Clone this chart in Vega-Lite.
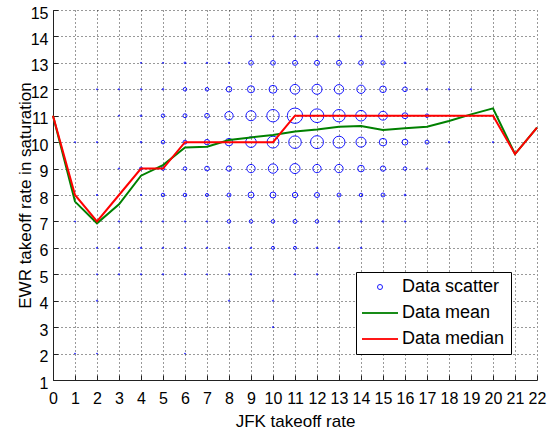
{
  "$schema": "https://vega.github.io/schema/vega-lite/v6.json",
  "width": 484,
  "height": 370,
  "autosize": "none",
  "padding": {"left": 53, "top": 10, "right": 10, "bottom": 52},
  "background": "white",
  "data": {
    "values": [
      {"s": "Data scatter", "x": 9, "y": 14, "n": 0.4}, {"s": "Data scatter", "x": 10, "y": 14, "n": 0.5}, {"s": "Data scatter", "x": 11, "y": 14, "n": 0.6}, {"s": "Data scatter", "x": 12, "y": 14, "n": 0.6}, {"s": "Data scatter", "x": 13, "y": 14, "n": 0.6}, {"s": "Data scatter", "x": 14, "y": 14, "n": 0.6},
      {"s": "Data scatter", "x": 4, "y": 13, "n": 0.4}, {"s": "Data scatter", "x": 5, "y": 13, "n": 0.4}, {"s": "Data scatter", "x": 6, "y": 13, "n": 1}, {"s": "Data scatter", "x": 7, "y": 13, "n": 0.6}, {"s": "Data scatter", "x": 8, "y": 13, "n": 0.6}, {"s": "Data scatter", "x": 9, "y": 13, "n": 7}, {"s": "Data scatter", "x": 10, "y": 13, "n": 7}, {"s": "Data scatter", "x": 11, "y": 13, "n": 8}, {"s": "Data scatter", "x": 12, "y": 13, "n": 8}, {"s": "Data scatter", "x": 13, "y": 13, "n": 8}, {"s": "Data scatter", "x": 14, "y": 13, "n": 7}, {"s": "Data scatter", "x": 15, "y": 13, "n": 6}, {"s": "Data scatter", "x": 16, "y": 13, "n": 1},
      {"s": "Data scatter", "x": 2, "y": 12, "n": 0.4}, {"s": "Data scatter", "x": 3, "y": 12, "n": 0.5}, {"s": "Data scatter", "x": 4, "y": 12, "n": 0.6}, {"s": "Data scatter", "x": 5, "y": 12, "n": 0.8}, {"s": "Data scatter", "x": 6, "y": 12, "n": 4}, {"s": "Data scatter", "x": 7, "y": 12, "n": 4}, {"s": "Data scatter", "x": 8, "y": 12, "n": 10}, {"s": "Data scatter", "x": 9, "y": 12, "n": 16}, {"s": "Data scatter", "x": 10, "y": 12, "n": 20}, {"s": "Data scatter", "x": 11, "y": 12, "n": 30}, {"s": "Data scatter", "x": 12, "y": 12, "n": 32}, {"s": "Data scatter", "x": 13, "y": 12, "n": 28}, {"s": "Data scatter", "x": 14, "y": 12, "n": 22}, {"s": "Data scatter", "x": 15, "y": 12, "n": 14}, {"s": "Data scatter", "x": 16, "y": 12, "n": 7}, {"s": "Data scatter", "x": 17, "y": 12, "n": 1}, {"s": "Data scatter", "x": 18, "y": 12, "n": 0.6}, {"s": "Data scatter", "x": 19, "y": 12, "n": 0.6},
      {"s": "Data scatter", "x": 3, "y": 11, "n": 0.4}, {"s": "Data scatter", "x": 4, "y": 11, "n": 0.8}, {"s": "Data scatter", "x": 5, "y": 11, "n": 4}, {"s": "Data scatter", "x": 6, "y": 11, "n": 5}, {"s": "Data scatter", "x": 7, "y": 11, "n": 7}, {"s": "Data scatter", "x": 8, "y": 11, "n": 22}, {"s": "Data scatter", "x": 9, "y": 11, "n": 32}, {"s": "Data scatter", "x": 10, "y": 11, "n": 49}, {"s": "Data scatter", "x": 11, "y": 11, "n": 75}, {"s": "Data scatter", "x": 12, "y": 11, "n": 60}, {"s": "Data scatter", "x": 13, "y": 11, "n": 49}, {"s": "Data scatter", "x": 14, "y": 11, "n": 36}, {"s": "Data scatter", "x": 15, "y": 11, "n": 25}, {"s": "Data scatter", "x": 16, "y": 11, "n": 11}, {"s": "Data scatter", "x": 17, "y": 11, "n": 4},
      {"s": "Data scatter", "x": 1, "y": 10, "n": 0.4}, {"s": "Data scatter", "x": 2, "y": 10, "n": 0.5}, {"s": "Data scatter", "x": 4, "y": 10, "n": 0.8}, {"s": "Data scatter", "x": 5, "y": 10, "n": 4}, {"s": "Data scatter", "x": 6, "y": 10, "n": 5}, {"s": "Data scatter", "x": 7, "y": 10, "n": 9}, {"s": "Data scatter", "x": 8, "y": 10, "n": 18}, {"s": "Data scatter", "x": 9, "y": 10, "n": 36}, {"s": "Data scatter", "x": 10, "y": 10, "n": 45}, {"s": "Data scatter", "x": 11, "y": 10, "n": 50}, {"s": "Data scatter", "x": 12, "y": 10, "n": 53}, {"s": "Data scatter", "x": 13, "y": 10, "n": 45}, {"s": "Data scatter", "x": 14, "y": 10, "n": 32}, {"s": "Data scatter", "x": 15, "y": 10, "n": 18}, {"s": "Data scatter", "x": 16, "y": 10, "n": 11}, {"s": "Data scatter", "x": 17, "y": 10, "n": 5}, {"s": "Data scatter", "x": 18, "y": 10, "n": 0.6}, {"s": "Data scatter", "x": 20, "y": 10, "n": 0.5},
      {"s": "Data scatter", "x": 3, "y": 9, "n": 0.5}, {"s": "Data scatter", "x": 4, "y": 9, "n": 3}, {"s": "Data scatter", "x": 5, "y": 9, "n": 4}, {"s": "Data scatter", "x": 6, "y": 9, "n": 4}, {"s": "Data scatter", "x": 7, "y": 9, "n": 7}, {"s": "Data scatter", "x": 8, "y": 9, "n": 9}, {"s": "Data scatter", "x": 9, "y": 9, "n": 22}, {"s": "Data scatter", "x": 10, "y": 9, "n": 28}, {"s": "Data scatter", "x": 11, "y": 9, "n": 32}, {"s": "Data scatter", "x": 12, "y": 9, "n": 22}, {"s": "Data scatter", "x": 13, "y": 9, "n": 22}, {"s": "Data scatter", "x": 14, "y": 9, "n": 14}, {"s": "Data scatter", "x": 15, "y": 9, "n": 9}, {"s": "Data scatter", "x": 16, "y": 9, "n": 4}, {"s": "Data scatter", "x": 17, "y": 9, "n": 0.8},
      {"s": "Data scatter", "x": 2, "y": 8, "n": 0.5}, {"s": "Data scatter", "x": 4, "y": 8, "n": 0.6}, {"s": "Data scatter", "x": 5, "y": 8, "n": 4}, {"s": "Data scatter", "x": 6, "y": 8, "n": 4}, {"s": "Data scatter", "x": 7, "y": 8, "n": 3}, {"s": "Data scatter", "x": 8, "y": 8, "n": 5}, {"s": "Data scatter", "x": 9, "y": 8, "n": 11}, {"s": "Data scatter", "x": 10, "y": 8, "n": 11}, {"s": "Data scatter", "x": 11, "y": 8, "n": 9}, {"s": "Data scatter", "x": 12, "y": 8, "n": 8}, {"s": "Data scatter", "x": 13, "y": 8, "n": 5}, {"s": "Data scatter", "x": 14, "y": 8, "n": 4}, {"s": "Data scatter", "x": 15, "y": 8, "n": 5}, {"s": "Data scatter", "x": 16, "y": 8, "n": 1},
      {"s": "Data scatter", "x": 1, "y": 7, "n": 0.4}, {"s": "Data scatter", "x": 2, "y": 7, "n": 0.5}, {"s": "Data scatter", "x": 3, "y": 7, "n": 0.5}, {"s": "Data scatter", "x": 4, "y": 7, "n": 0.6}, {"s": "Data scatter", "x": 5, "y": 7, "n": 0.6}, {"s": "Data scatter", "x": 6, "y": 7, "n": 0.6}, {"s": "Data scatter", "x": 7, "y": 7, "n": 0.6}, {"s": "Data scatter", "x": 8, "y": 7, "n": 4}, {"s": "Data scatter", "x": 9, "y": 7, "n": 4}, {"s": "Data scatter", "x": 10, "y": 7, "n": 4}, {"s": "Data scatter", "x": 11, "y": 7, "n": 5}, {"s": "Data scatter", "x": 12, "y": 7, "n": 4}, {"s": "Data scatter", "x": 13, "y": 7, "n": 0.8}, {"s": "Data scatter", "x": 14, "y": 7, "n": 0.8}, {"s": "Data scatter", "x": 15, "y": 7, "n": 0.8}, {"s": "Data scatter", "x": 16, "y": 7, "n": 0.6},
      {"s": "Data scatter", "x": 2, "y": 6, "n": 0.5}, {"s": "Data scatter", "x": 3, "y": 6, "n": 0.5}, {"s": "Data scatter", "x": 4, "y": 6, "n": 0.6}, {"s": "Data scatter", "x": 5, "y": 6, "n": 0.6}, {"s": "Data scatter", "x": 6, "y": 6, "n": 0.6}, {"s": "Data scatter", "x": 7, "y": 6, "n": 0.6}, {"s": "Data scatter", "x": 8, "y": 6, "n": 0.6}, {"s": "Data scatter", "x": 9, "y": 6, "n": 0.6}, {"s": "Data scatter", "x": 10, "y": 6, "n": 3}, {"s": "Data scatter", "x": 11, "y": 6, "n": 3}, {"s": "Data scatter", "x": 12, "y": 6, "n": 0.8}, {"s": "Data scatter", "x": 13, "y": 6, "n": 0.6}, {"s": "Data scatter", "x": 14, "y": 6, "n": 0.6},
      {"s": "Data scatter", "x": 2, "y": 5, "n": 0.4}, {"s": "Data scatter", "x": 3, "y": 5, "n": 0.5}, {"s": "Data scatter", "x": 4, "y": 5, "n": 0.5}, {"s": "Data scatter", "x": 5, "y": 5, "n": 0.6}, {"s": "Data scatter", "x": 6, "y": 5, "n": 0.6}, {"s": "Data scatter", "x": 7, "y": 5, "n": 0.4}, {"s": "Data scatter", "x": 8, "y": 5, "n": 0.6}, {"s": "Data scatter", "x": 9, "y": 5, "n": 0.6}, {"s": "Data scatter", "x": 11, "y": 5, "n": 0.6}, {"s": "Data scatter", "x": 12, "y": 5, "n": 0.6},
      {"s": "Data scatter", "x": 2, "y": 4, "n": 0.5}, {"s": "Data scatter", "x": 8, "y": 4, "n": 0.5}, {"s": "Data scatter", "x": 10, "y": 4, "n": 0.5},
      {"s": "Data scatter", "x": 10, "y": 3, "n": 0.5},
      {"s": "Data scatter", "x": 1, "y": 2, "n": 0.3}, {"s": "Data scatter", "x": 2, "y": 2, "n": 0.3}, {"s": "Data scatter", "x": 6, "y": 2, "n": 0.3},
      {"s": "Data mean", "x": 0, "y": 11}, {"s": "Data mean", "x": 1, "y": 7.75}, {"s": "Data mean", "x": 2, "y": 6.93}, {"s": "Data mean", "x": 3, "y": 7.65}, {"s": "Data mean", "x": 4, "y": 8.73}, {"s": "Data mean", "x": 5, "y": 9.13},
      {"s": "Data mean", "x": 6, "y": 9.8}, {"s": "Data mean", "x": 7, "y": 9.83}, {"s": "Data mean", "x": 8, "y": 10.08}, {"s": "Data mean", "x": 9, "y": 10.18}, {"s": "Data mean", "x": 10, "y": 10.27}, {"s": "Data mean", "x": 11, "y": 10.4},
      {"s": "Data mean", "x": 12, "y": 10.48}, {"s": "Data mean", "x": 13, "y": 10.58}, {"s": "Data mean", "x": 14, "y": 10.61}, {"s": "Data mean", "x": 15, "y": 10.46}, {"s": "Data mean", "x": 16, "y": 10.53}, {"s": "Data mean", "x": 17, "y": 10.58},
      {"s": "Data mean", "x": 18, "y": 10.8}, {"s": "Data mean", "x": 19, "y": 11.05}, {"s": "Data mean", "x": 20, "y": 11.28}, {"s": "Data mean", "x": 21, "y": 9.55}, {"s": "Data mean", "x": 22, "y": 10.55},
      {"s": "Data median", "x": 0, "y": 11}, {"s": "Data median", "x": 1, "y": 8}, {"s": "Data median", "x": 2, "y": 7}, {"s": "Data median", "x": 3, "y": 8}, {"s": "Data median", "x": 4, "y": 9}, {"s": "Data median", "x": 5, "y": 9},
      {"s": "Data median", "x": 6, "y": 10}, {"s": "Data median", "x": 7, "y": 10}, {"s": "Data median", "x": 8, "y": 10}, {"s": "Data median", "x": 9, "y": 10}, {"s": "Data median", "x": 10, "y": 10}, {"s": "Data median", "x": 11, "y": 11},
      {"s": "Data median", "x": 12, "y": 11}, {"s": "Data median", "x": 13, "y": 11}, {"s": "Data median", "x": 14, "y": 11}, {"s": "Data median", "x": 15, "y": 11}, {"s": "Data median", "x": 16, "y": 11}, {"s": "Data median", "x": 17, "y": 11},
      {"s": "Data median", "x": 18, "y": 11}, {"s": "Data median", "x": 19, "y": 11}, {"s": "Data median", "x": 20, "y": 11}, {"s": "Data median", "x": 21, "y": 9.55}, {"s": "Data median", "x": 22, "y": 10.55}
    ]
  },
  "encoding": {
    "x": {
      "field": "x",
      "type": "quantitative",
      "scale": {"domain": [0, 22], "nice": false},
      "axis": {
        "title": "JFK takeoff rate",
        "values": [0, 1, 2, 3, 4, 5, 6, 7, 8, 9, 10, 11, 12, 13, 14, 15, 16, 17, 18, 19, 20, 21, 22],
        "labelOverlap": false,
        "labelPadding": 15,
        "titlePadding": 7
      }
    },
    "y": {
      "field": "y",
      "type": "quantitative",
      "scale": {"domain": [1, 15], "nice": false},
      "axis": {
        "title": "EWR takeoff rate in saturation",
        "values": [1, 2, 3, 4, 5, 6, 7, 8, 9, 10, 11, 12, 13, 14, 15],
        "labelOverlap": false,
        "labelPadding": 10,
        "labelOffset": 3,
        "titlePadding": -4
      }
    },
    "color": {
      "field": "s",
      "type": "nominal",
      "scale": {"domain": ["Data scatter", "Data mean", "Data median"], "range": ["#0000ff", "#008000", "#ff0000"]},
      "legend": {
        "title": null,
        "orient": "bottom-right",
        "offset": 26,
        "padding": 6,
        "strokeColor": "#000",
        "fillColor": "white",
        "labelFont": "Liberation Sans",
        "labelFontSize": 18,
        "labelColor": "#000",
        "labelOffset": 13,
        "symbolOffset": 9,
        "rowPadding": 8,
        "symbolType": {"expr": "datum.value === 'Data scatter' ? 'circle' : 'stroke'"},
        "symbolSize": {"expr": "datum.value === 'Data scatter' ? 25 : 1296"},
        "symbolStrokeWidth": {"expr": "datum.value === 'Data scatter' ? 1 : 2"}
      }
    }
  },
  "layer": [
    {
      "transform": [{"filter": "datum.s === 'Data scatter'"}],
      "mark": {"type": "point", "shape": "circle", "filled": false, "strokeWidth": 1, "opacity": 0.9},
      "encoding": {
        "size": {
          "field": "n",
          "type": "quantitative",
          "scale": {"type": "linear", "domain": [0, 100], "range": [0, 314]},
          "legend": null
        }
      }
    },
    {
      "transform": [{"filter": "datum.s === 'Data mean'"}],
      "mark": {"type": "line", "strokeWidth": 2}
    },
    {
      "transform": [{"filter": "datum.s === 'Data median'"}],
      "mark": {"type": "line", "strokeWidth": 2}
    }
  ],
  "config": {
    "view": {"stroke": null},
    "axis": {
      "labelFont": "Liberation Sans",
      "labelFontSize": 16,
      "labelColor": "#000",
      "labelFlush": false,
      "labelOverlap": false,
      "titleFont": "Liberation Sans",
      "titleFontSize": 17,
      "titleFontWeight": "normal",
      "titleColor": "#000",
      "domainColor": "#222",
      "domainWidth": 1,
      "tickColor": "#222",
      "tickSize": -5,
      "tickWidth": 1,
      "grid": true,
      "gridColor": "#000",
      "gridDash": [1, 3],
      "gridOpacity": 0.8,
      "gridWidth": 1
    }
  }
}
